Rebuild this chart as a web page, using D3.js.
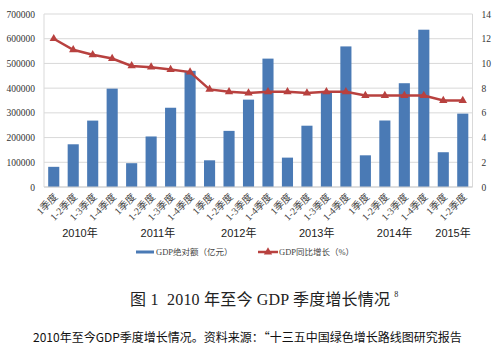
<!DOCTYPE html>
<html><head><meta charset="utf-8">
<script src="https://cdn.jsdelivr.net/npm/d3@7"></script>
<style>body{margin:0;background:#fff}svg{display:block}</style>
</head><body>
<svg id="c" width="500" height="349"></svg>
<script>
const categories = ["1季度","1-2季度","1-3季度","1-4季度","1季度","1-2季度","1-3季度","1-4季度","1季度","1-2季度","1-3季度","1-4季度","1季度","1-2季度","1-3季度","1-4季度","1季度","1-2季度","1-3季度","1-4季度","1季度","1-2季度"];
const years = ["2010年","2011年","2012年","2013年","2014年","2015年"];
const gdpValues = [81622,172840,268660,398000,96311,204459,320692,470000,107995,227098,353480,519470,118855,248009,386762,568845,128213,269044,419908,636463,140667,296868];
const growthValues = [12.0,11.1,10.7,10.4,9.8,9.7,9.5,9.3,7.9,7.7,7.6,7.7,7.7,7.6,7.7,7.7,7.4,7.4,7.4,7.4,7.0,7.0];
const leftTicks = [0,100000,200000,300000,400000,500000,600000,700000];
const rightTicks = [0,2,4,6,8,10,12,14];
const legendLabels = ["GDP绝对额（亿元）","GDP同比增长（%）"];
const titleText = "图 1  2010 年至今 GDP 季度增长情况";
const captionText = "2010年至今GDP季度增长情况。资料来源：“十三五中国绿色增长路线图研究报告";

const svg = d3.select("#c");
const L=44, R=472.5, T=14, B=187;
const x = d3.scaleBand().domain(d3.range(categories.length)).range([L,R]).paddingInner(0.43).paddingOuter(0.215);
const yL = d3.scaleLinear().domain([0,700000]).range([B,T]);
const yR = d3.scaleLinear().domain([0,14]).range([B,T]);
const serif = "'Liberation Serif','Noto Sans CJK SC',serif";
const blue="#4a7ab5", red="#b8413f";

// grid
svg.append("g").selectAll("line").data(leftTicks).join("line")
  .attr("x1",L).attr("x2",R).attr("y1",d=>yL(d)).attr("y2",d=>yL(d))
  .attr("stroke","#d9d9d9").attr("stroke-width",1);
svg.append("line").attr("x1",L).attr("x2",L).attr("y1",T).attr("y2",B).attr("stroke","#d9d9d9");
svg.append("line").attr("x1",R).attr("x2",R).attr("y1",T).attr("y2",B).attr("stroke","#d9d9d9");

// left axis
const gl = svg.append("g").attr("transform",`translate(${L},0)`)
  .call(d3.axisLeft(yL).tickValues(leftTicks).tickSize(0).tickPadding(9).tickFormat(d3.format("d")));
gl.select(".domain").remove();
gl.selectAll("text").attr("font-family",serif).attr("font-size",9.5).attr("fill","#333");
// right axis
const gr = svg.append("g").attr("transform",`translate(${R},0)`)
  .call(d3.axisRight(yR).tickValues(rightTicks).tickSize(0).tickPadding(9));
gr.select(".domain").remove();
gr.selectAll("text").attr("font-family",serif).attr("font-size",9.5).attr("fill","#333");

// bars
svg.append("g").selectAll("rect").data(gdpValues).join("rect")
  .attr("x",(d,i)=>x(i)).attr("width",x.bandwidth())
  .attr("y",d=>yL(d)).attr("height",d=>B-yL(d)).attr("fill",blue);

// bottom axis line
svg.append("line").attr("x1",L).attr("x2",R).attr("y1",B).attr("y2",B).attr("stroke","#d0d0d0");

// line
const cx = i=>x(i)+x.bandwidth()/2;
svg.append("path").datum(growthValues)
  .attr("d",d3.line().x((d,i)=>cx(i)).y(d=>yR(d)))
  .attr("fill","none").attr("stroke",red).attr("stroke-width",2.5);
const tri = d3.symbol().type(d3.symbolTriangle).size(30);
svg.append("g").selectAll("path").data(growthValues).join("path")
  .attr("d",tri).attr("transform",(d,i)=>`translate(${cx(i)},${yR(d)})`).attr("fill",red);

// category labels
svg.append("g").selectAll("text").data(categories).join("text")
  .attr("transform",(d,i)=>`translate(${cx(i)+3},${B+9}) rotate(-45)`)
  .attr("text-anchor","end").attr("dominant-baseline","middle")
  .attr("font-family",serif).attr("font-size",10).attr("fill","#444").text(d=>d);

// year labels
svg.append("g").selectAll("text").data(years).join("text")
  .attr("x",(d,i)=>{const a=i*4, b=Math.min(i*4+3,categories.length-1); return (cx(a)+cx(b))/2 - (i<2?3:0);})
  .attr("y",237).attr("text-anchor","middle")
  .attr("font-family","'Liberation Sans','Noto Sans CJK SC',sans-serif").attr("font-size",11).attr("fill","#222").text(d=>d);

// legend
const lg = svg.append("g").attr("font-family",serif).attr("font-size",8.5).attr("fill","#444");
lg.append("rect").attr("x",136).attr("y",250.5).attr("width",18).attr("height",3).attr("fill",blue);
lg.append("text").attr("x",156).attr("y",255).text(legendLabels[0]);
lg.append("line").attr("x1",258).attr("x2",278).attr("y1",252).attr("y2",252).attr("stroke",red).attr("stroke-width",2.5);
lg.append("path").attr("d",tri).attr("transform","translate(268,252)").attr("fill",red);
lg.append("text").attr("x",279).attr("y",255).text(legendLabels[1]);

// title
const tt = svg.append("text").attr("x",130).attr("y",305).style("white-space","pre")
  .attr("font-family",serif).attr("font-size",16).attr("fill","#222").attr("letter-spacing",0.2);
tt.append("tspan").text(titleText);
tt.append("tspan").attr("dx",4).attr("dy",-8).attr("font-size",8).text("8");

// caption
svg.append("text").attr("x",33).attr("y",342)
  .attr("font-family","'Noto Sans CJK SC',sans-serif").attr("font-size",12).attr("fill","#111")
  .text(captionText);
</script>
</body></html>
